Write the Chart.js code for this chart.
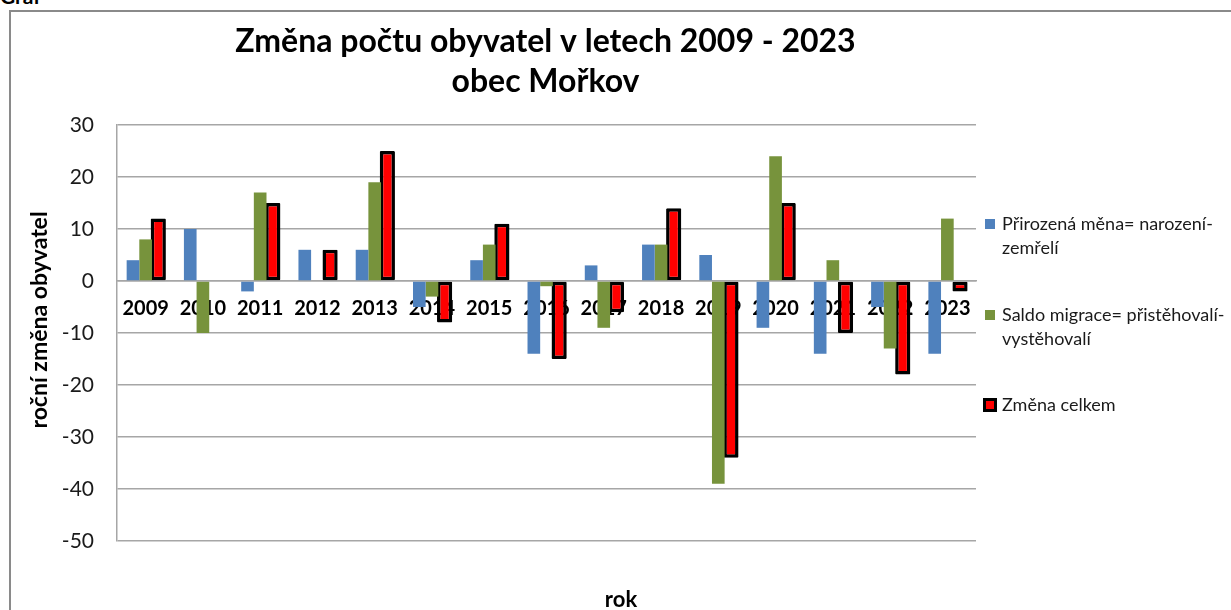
<!DOCTYPE html>
<html>
<head>
<meta charset="utf-8">
<title>Graf</title>
<script src="https://cdn.jsdelivr.net/npm/chart.js@4.4.1/dist/chart.umd.min.js"></script>
<style>
  body { margin: 0; background: #fff; overflow: hidden; }
  #ramec { position: absolute; left: 9px; top: 10px; width: 1300px; height: 700px;
           border-left: 2px solid #8a8a8a; border-top: 2px solid #8a8a8a; }
  #nadpis { position: absolute; left: 0; top: -17px; font: bold 21px Lato, sans-serif; color: #000; }
  canvas { position: absolute; left: 0; top: 0; }
</style>
</head>
<body>
<div id="nadpis">Graf</div>
<div id="ramec"></div>
<canvas id="graf" width="1231" height="610"></canvas>
<script>
var roky = ["2009", "2010", "2011", "2012", "2013", "2014", "2015", "2016",
            "2017", "2018", "2019", "2020", "2021", "2022", "2023"];
var prirozenaMena = [4, 10, -2, 6, 6, -5, 4, -14, 3, 7, 5, -9, -14, -5, -14];
var saldoMigrace = [8, -10, 17, 0, 19, -3, 7, -1, -9, 7, -39, 24, 4, -13, 12];
var zmenaCelkem = [12, 0, 15, 6, 25, -8, 11, -15, -6, 14, -34, 15, -10, -18, -2];

var titulek = ["Změna počtu obyvatel v letech 2009 - 2023", "obec Mořkov"];
var popisY = "roční změna obyvatel";
var popisX = "rok";
var legenda = [
  ["Přirozená měna= narození-", "zemřelí"],
  ["Saldo migrace= přistěhovalí-", "vystěhovalí"],
  ["Změna celkem"]
];

var modra = "#4f81bd";
var zelena = "#77933c";
var cervena = "#ff0000";
var font = "Lato, sans-serif";

// titulky, popisky os a legenda (legenda se zalamuje do dvou radku jako v Excelu)
var popisky = {
  id: "popisky",
  afterDraw: function(chart) {
    var ctx = chart.ctx;
    var area = chart.chartArea;
    ctx.save();
    ctx.fillStyle = "#000";
    ctx.textAlign = "center";
    ctx.textBaseline = "middle";
    ctx.font = "bold 32px " + font;
    var cx = (area.left + area.right) / 2 - 1;
    ctx.fillText(titulek[0], cx, 42);
    ctx.fillText(titulek[1], cx, 82);

    ctx.font = "bold 22px " + font;
    ctx.fillText(popisX, 621, 600);

    ctx.save();
    ctx.translate(40, 320);
    ctx.rotate(-Math.PI / 2);
    ctx.font = "bold 23px " + font;
    ctx.fillText(popisY, 0, 0);
    ctx.restore();

    // legenda
    var lx = area.right + 9;
    var ly = [224, 315, 405];
    ctx.textAlign = "left";
    ctx.font = "18px " + font;
    chart.data.datasets.forEach(function(ds, i) {
      var y = ly[i];
      if (ds.borderWidth) {
        ctx.fillStyle = ds.borderColor;
        ctx.fillRect(lx - 2, y - 7, 14, 14);
        ctx.fillStyle = ds.backgroundColor;
        ctx.fillRect(lx + 1, y - 4, 8, 8);
      } else {
        ctx.fillStyle = ds.backgroundColor;
        ctx.fillRect(lx, y - 5, 10, 10);
      }
      ctx.fillStyle = "#1a1a1a";
      legenda[i].forEach(function(radek, j) {
        ctx.fillText(radek, lx + 17, y + j * 24);
      });
    });
    ctx.restore();
  }
};

var ctx = document.getElementById("graf");
new Chart(ctx, {
  type: "bar",
  data: {
    labels: roky,
    datasets: [{
      label: legenda[0].join(""),
      data: prirozenaMena,
      backgroundColor: modra,
      borderWidth: 0
    }, {
      label: legenda[1].join(""),
      data: saldoMigrace,
      backgroundColor: zelena,
      borderWidth: 0
    }, {
      label: legenda[2].join(""),
      data: zmenaCelkem,
      backgroundColor: cervena,
      borderColor: "#000",
      borderWidth: 3.5,
      borderSkipped: false,
      borderRadius: 1,
      barPercentage: 1.2
    }]
  },
  options: {
    responsive: false,
    animation: false,
    categoryPercentage: 0.663,
    barPercentage: 1,
    layout: {
      padding: { left: 20, right: 255, top: 125, bottom: 69 }
    },
    plugins: {
      legend: { display: false },
      title: { display: false },
      tooltip: { enabled: false }
    },
    scales: {
      x: {
        position: { y: 0 },
        grid: { display: false, drawTicks: false },
        border: { display: true, color: "#a6a6a6", width: 1.5 },
        ticks: {
          autoSkip: false,
          maxRotation: 0,
          padding: 16,
          color: "#000",
          font: { family: font, size: 20, weight: "bold" }
        }
      },
      y: {
        min: -50,
        max: 30,
        afterFit: function(scale) { scale.width = 97; },
        grid: { color: "#a6a6a6", lineWidth: 1.5, drawTicks: false },
        border: { display: true, color: "#a6a6a6", width: 1.5 },
        ticks: {
          stepSize: 10,
          padding: 23,
          color: "#1a1a1a",
          font: { family: font, size: 21 }
        }
      }
    }
  },
  plugins: [popisky]
});
</script>
</body>
</html>
